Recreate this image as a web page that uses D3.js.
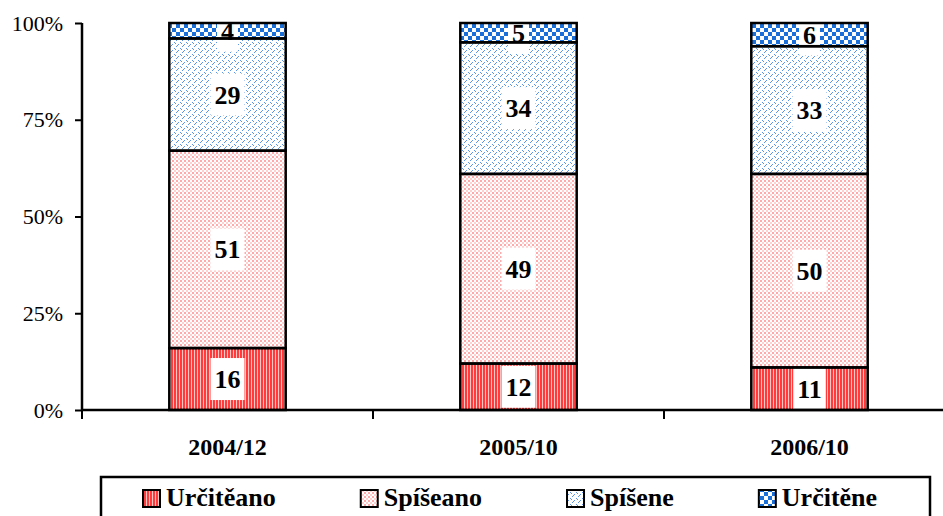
<!DOCTYPE html>
<html>
<head>
<meta charset="utf-8">
<script src="https://cdn.jsdelivr.net/npm/d3@7"></script>
<style>
  body { margin: 0; background: #fff; }
  svg { display: block; }
  svg text { font-family: "Times New Roman", "Liberation Serif", Tinos, Times, serif; }
</style>
</head>
<body>
<svg width="943" height="516"></svg>
<script>
const svg = d3.select("svg");

// Data (percent shares)
const periods = ["2004/12", "2005/10", "2006/10"];
const seriesNames = ["Určitěano", "Spíšeano", "Spíšene", "Určitěne"];
const urciteAno = [16, 12, 11];
const spiseAno = [51, 49, 50];
const spiseNe = [29, 34, 33];
const urciteNe = [4, 5, 6];
const yTicks = [0, 25, 50, 75, 100];

const seriesValues = [urciteAno, spiseAno, spiseNe, urciteNe];
const patternIds = ["pRedStripe", "pPinkDot", "pBlueDot", "pBlueCheck"];

// Patterns
const defs = svg.append("defs");

const p1 = defs.append("pattern").attr("id", "pRedStripe")
    .attr("patternUnits", "userSpaceOnUse").attr("width", 3).attr("height", 3);
p1.append("rect").attr("width", 3).attr("height", 3).attr("fill", "#ff3b3b");
p1.append("rect").attr("x", 2).attr("width", 1).attr("height", 3).attr("fill", "#ffc4c4");

const p2 = defs.append("pattern").attr("id", "pPinkDot")
    .attr("patternUnits", "userSpaceOnUse").attr("width", 4).attr("height", 4);
p2.append("rect").attr("width", 4).attr("height", 4).attr("fill", "#fff");
p2.append("rect").attr("width", 2).attr("height", 2).attr("fill", "#ffaaaa");
p2.append("rect").attr("x", 2).attr("y", 2).attr("width", 2).attr("height", 2).attr("fill", "#ffd0d0");

const p3 = defs.append("pattern").attr("id", "pBlueDot")
    .attr("patternUnits", "userSpaceOnUse").attr("width", 6).attr("height", 6);
p3.append("rect").attr("width", 6).attr("height", 6).attr("fill", "#fff");
[[0, 0], [1, 1], [3, 3], [4, 2], [2, 4]].forEach(([x, y]) => {
    p3.append("rect").attr("x", x).attr("y", y).attr("width", 1).attr("height", 1).attr("fill", "#5b95e8");
});

const p4 = defs.append("pattern").attr("id", "pBlueCheck")
    .attr("patternUnits", "userSpaceOnUse").attr("width", 8).attr("height", 8);
p4.append("rect").attr("width", 8).attr("height", 8).attr("fill", "#fff");
p4.append("rect").attr("width", 4).attr("height", 4).attr("fill", "#1a6fd8");
p4.append("rect").attr("x", 4).attr("y", 4).attr("width", 4).attr("height", 4).attr("fill", "#1a6fd8");

// Scales
const x = d3.scaleBand().domain(periods).range([82, 955]).padding(0);
const y = d3.scaleLinear().domain([0, 100]).range([410, 23]);
const barW = x.bandwidth() * 0.4;

// Stack the series
const rows = periods.map((p, i) => {
    const r = { period: p };
    seriesNames.forEach((s, k) => r[s] = seriesValues[k][i]);
    return r;
});
const stacked = d3.stack().keys(seriesNames)(rows);

const segs = [];
stacked.forEach((layer, k) => {
    layer.forEach(d => segs.push({ k, period: d.data.period, y0: d[0], y1: d[1], v: d[1] - d[0] }));
});

const barX = d => x(d.period) + (x.bandwidth() - barW) / 2;
const midX = d => x(d.period) + x.bandwidth() / 2;
const midY = d => y((d.y0 + d.y1) / 2);

// Layers: fills, label boxes, outlines, label text
const fillLayer = svg.append("g");
const boxLayer = svg.append("g");
const lineLayer = svg.append("g");
const textLayer = svg.append("g");

fillLayer.selectAll("rect")
    .data(segs).enter().append("rect")
    .attr("x", barX)
    .attr("y", d => y(d.y1))
    .attr("width", barW)
    .attr("height", d => y(d.y0) - y(d.y1))
    .attr("fill", d => `url(#${patternIds[d.k]})`);

const texts = textLayer.selectAll("text")
    .data(segs).enter().append("text")
    .attr("x", midX)
    .attr("y", midY)
    .attr("dy", "0.35em")
    .attr("text-anchor", "middle")
    .attr("font-size", 26)
    .attr("font-weight", "bold")
    .text(d => d.v);

texts.each(function (d) {
    const w = this.getComputedTextLength();
    boxLayer.append("rect")
        .attr("x", midX(d) - w / 2 - 4)
        .attr("y", midY(d) - 21)
        .attr("width", w + 8)
        .attr("height", 42)
        .attr("fill", "#fff");
});

lineLayer.selectAll("rect")
    .data(segs).enter().append("rect")
    .attr("x", barX)
    .attr("y", d => y(d.y1))
    .attr("width", barW)
    .attr("height", d => y(d.y0) - y(d.y1))
    .attr("fill", "none")
    .attr("stroke", "#000")
    .attr("stroke-width", 2.5);

// Y axis
svg.append("g")
    .attr("transform", "translate(82,0)")
    .call(d3.axisLeft(y).tickValues(yTicks).tickFormat(d => d + "%").tickSize(7).tickPadding(12))
    .call(g => g.attr("font-family", null))
    .call(g => g.select(".domain").attr("stroke-width", 2.5).attr("d", "M0,23V410"))
    .call(g => g.selectAll(".tick line").attr("stroke-width", 2))
    .call(g => g.selectAll("text").attr("font-size", 22).attr("fill", "#000"));

// X axis
svg.append("g")
    .attr("transform", "translate(0,410)")
    .call(d3.axisBottom(x).tickSize(0).tickPadding(28))
    .call(g => g.attr("font-family", null))
    .call(g => g.select(".domain").remove())
    .call(g => g.selectAll("text").attr("font-size", 24).attr("font-weight", "bold").attr("fill", "#000"));

svg.append("line")
    .attr("x1", 81).attr("x2", 943).attr("y1", 410).attr("y2", 410)
    .attr("stroke", "#000").attr("stroke-width", 2.5);

svg.append("g").selectAll("line")
    .data(periods.concat(["end"])).enter().append("line")
    .attr("x1", d => d === "end" ? x.range()[1] : x(d))
    .attr("x2", d => d === "end" ? x.range()[1] : x(d))
    .attr("y1", 410).attr("y2", 419)
    .attr("stroke", "#000").attr("stroke-width", 2);

// Legend
const legend = svg.append("g");
legend.append("rect")
    .attr("x", 101).attr("y", 477).attr("width", 829).attr("height", 60)
    .attr("fill", "#fff").attr("stroke", "#000").attr("stroke-width", 2.5);

let lx = 143;
seriesNames.forEach((name, k) => {
    legend.append("rect")
        .attr("x", lx).attr("y", 490).attr("width", 17).attr("height", 17)
        .attr("fill", `url(#${patternIds[k]})`)
        .attr("stroke", "#000").attr("stroke-width", 2);
    const t = legend.append("text")
        .attr("x", lx + 23).attr("y", 506)
        .attr("font-size", 26).attr("font-weight", "bold")
        .text(name);
    lx += 23 + t.node().getComputedTextLength() + 85;
});
</script>
</body>
</html>
